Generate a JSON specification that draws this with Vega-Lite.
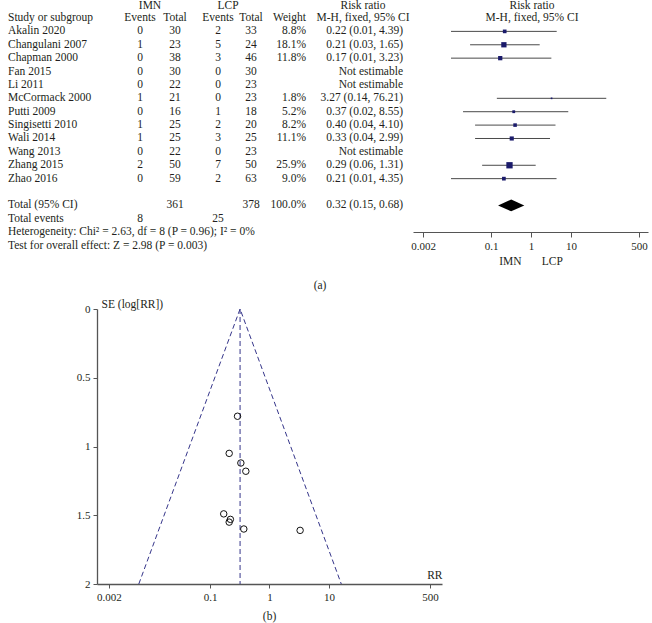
{
  "$schema": "https://vega.github.io/schema/vega-lite/v6.json",
  "width": 652,
  "height": 623,
  "padding": 0,
  "autosize": "none",
  "background": "white",
  "config": {
    "view": {"stroke": null},
    "text": {"font": "Liberation Serif", "fontSize": 11.5, "color": "#231f20"},
    "axis": {"labelFont": "Liberation Serif", "titleFont": "Liberation Serif", "labelFontSize": 11, "titleFontSize": 11.5, "titleFontWeight": "normal", "labelColor": "#231f20", "titleColor": "#231f20", "domainColor": "#555", "tickColor": "#555", "grid": false, "labelFlush": false}
  },
  "datasets": {
    "table": [
      {"row": -1, "study": "Study or subgroup", "imn_e": "Events", "imn_t": "Total", "lcp_e": "Events", "lcp_t": "Total", "weight": "Weight"},
      {"row": 0, "study": "Akalin 2020", "imn_e": "0", "imn_t": "30", "lcp_e": "2", "lcp_t": "33", "weight": "8.8%", "ci": "0.22 (0.01, 4.39)"},
      {"row": 1, "study": "Changulani 2007", "imn_e": "1", "imn_t": "23", "lcp_e": "5", "lcp_t": "24", "weight": "18.1%", "ci": "0.21 (0.03, 1.65)"},
      {"row": 2, "study": "Chapman 2000", "imn_e": "0", "imn_t": "38", "lcp_e": "3", "lcp_t": "46", "weight": "11.8%", "ci": "0.17 (0.01, 3.23)"},
      {"row": 3, "study": "Fan 2015", "imn_e": "0", "imn_t": "30", "lcp_e": "0", "lcp_t": "30", "ci": "Not estimable"},
      {"row": 4, "study": "Li 2011", "imn_e": "0", "imn_t": "22", "lcp_e": "0", "lcp_t": "23", "ci": "Not estimable"},
      {"row": 5, "study": "McCormack 2000", "imn_e": "1", "imn_t": "21", "lcp_e": "0", "lcp_t": "23", "weight": "1.8%", "ci": "3.27 (0.14, 76.21)"},
      {"row": 6, "study": "Putti 2009", "imn_e": "0", "imn_t": "16", "lcp_e": "1", "lcp_t": "18", "weight": "5.2%", "ci": "0.37 (0.02, 8.55)"},
      {"row": 7, "study": "Singisetti 2010", "imn_e": "1", "imn_t": "25", "lcp_e": "2", "lcp_t": "20", "weight": "8.2%", "ci": "0.40 (0.04, 4.10)"},
      {"row": 8, "study": "Wali 2014", "imn_e": "1", "imn_t": "25", "lcp_e": "3", "lcp_t": "25", "weight": "11.1%", "ci": "0.33 (0.04, 2.99)"},
      {"row": 9, "study": "Wang 2013", "imn_e": "0", "imn_t": "22", "lcp_e": "0", "lcp_t": "23", "ci": "Not estimable"},
      {"row": 10, "study": "Zhang 2015", "imn_e": "2", "imn_t": "50", "lcp_e": "7", "lcp_t": "50", "weight": "25.9%", "ci": "0.29 (0.06, 1.31)"},
      {"row": 11, "study": "Zhao 2016", "imn_e": "0", "imn_t": "59", "lcp_e": "2", "lcp_t": "63", "weight": "9.0%", "ci": "0.21 (0.01, 4.35)"},
      {"row": 13, "study": "Total (95% CI)", "imn_t": "361", "lcp_t": "378", "weight": "100.0%", "ci": "0.32 (0.15, 0.68)"},
      {"row": 14, "study": "Total events", "imn_e": "8", "lcp_e": "25"},
      {"row": 15, "study": "Heterogeneity: Chi² = 2.63, df = 8 (P = 0.96); I² = 0%"},
      {"row": 16, "study": "Test for overall effect: Z = 2.98 (P = 0.003)"}
    ],
    "headers": [
      {"label": "IMN", "row": -2, "slot": 7},
      {"label": "LCP", "row": -2, "slot": 8},
      {"label": "Risk ratio", "row": -2, "slot": 9},
      {"label": "Risk ratio", "row": -2, "slot": 10}
    ],
    "subheaders": [
      {"label": "M-H, fixed, 95% CI", "row": -1, "slot": 9},
      {"label": "M-H, fixed, 95% CI", "row": -1, "slot": 10},
      {"label": "(a)", "row": 19, "slot": 11}
    ],
    "forest": [
      {"row": 0, "rr": 0.22, "lo": 0.01, "hi": 4.39, "w": 8.8},
      {"row": 1, "rr": 0.21, "lo": 0.03, "hi": 1.65, "w": 18.1},
      {"row": 2, "rr": 0.17, "lo": 0.01, "hi": 3.23, "w": 11.8},
      {"row": 5, "rr": 3.27, "lo": 0.14, "hi": 76.21, "w": 1.8},
      {"row": 6, "rr": 0.37, "lo": 0.02, "hi": 8.55, "w": 5.2},
      {"row": 7, "rr": 0.40, "lo": 0.04, "hi": 4.10, "w": 8.2},
      {"row": 8, "rr": 0.33, "lo": 0.04, "hi": 2.99, "w": 11.1},
      {"row": 10, "rr": 0.29, "lo": 0.06, "hi": 1.31, "w": 25.9},
      {"row": 11, "rr": 0.21, "lo": 0.01, "hi": 4.35, "w": 9.0}
    ],
    "diamond": [
      {"rr": 0.15, "y1": 13, "y2": 13},
      {"rr": 0.32, "y1": 12.56, "y2": 13.44},
      {"rr": 0.68, "y1": 13, "y2": 13}
    ],
    "funnelPts": [
      {"study": "Akalin 2020", "rr": 0.22, "se": 1.53},
      {"study": "Changulani 2007", "rr": 0.21, "se": 1.05},
      {"study": "Chapman 2000", "rr": 0.17, "se": 1.49},
      {"study": "McCormack 2000", "rr": 3.27, "se": 1.61},
      {"study": "Putti 2009", "rr": 0.37, "se": 1.6},
      {"study": "Singisetti 2010", "rr": 0.40, "se": 1.18},
      {"study": "Wali 2014", "rr": 0.33, "se": 1.12},
      {"study": "Zhang 2015", "rr": 0.29, "se": 0.78},
      {"study": "Zhao 2016", "rr": 0.21, "se": 1.55}
    ],
    "funnelLines": [
      {"rr": 0.00635, "se": 2},
      {"rr": 0.32, "se": 0},
      {"rr": 16.1, "se": 2}
    ],
    "pooled": [
      {"rr": 0.32, "se": 0, "se2": 2}
    ]
  },
  "resolve": {"scale": {"x": "independent", "y": "independent"}},
  "layer": [
    {
      "encoding": {
        "y": {"field": "row", "type": "quantitative", "scale": {"domain": [-2, 16], "range": [4.6, 245.6], "nice": false, "zero": false}, "axis": null}
      },
      "layer": [
        {
          "data": {"name": "table"},
          "transform": [{"filter": "isValid(datum.study)"}],
          "mark": {"type": "text", "align": "left"},
          "encoding": {
            "x": {"datum": 0, "type": "quantitative", "scale": {"domain": [0,1,2,3,4,5,6,7,8,9,10,11,12], "range": [8,140,175,218,251,306,403,150,228,363,532,320,648], "nice": false, "zero": false}, "axis": null},
            "text": {"field": "study"}
          }
        },
        {
          "data": {"name": "table"},
          "transform": [{"filter": "isValid(datum.imn_e)"}],
          "mark": {"type": "text", "align": "center"},
          "encoding": {
            "x": {"datum": 1, "type": "quantitative", "scale": {"domain": [0,1,2,3,4,5,6,7,8,9,10,11,12], "range": [8,140,175,218,251,306,403,150,228,363,532,320,648], "nice": false, "zero": false}, "axis": null},
            "text": {"field": "imn_e"}
          }
        },
        {
          "data": {"name": "table"},
          "transform": [{"filter": "isValid(datum.imn_t)"}],
          "mark": {"type": "text", "align": "center"},
          "encoding": {
            "x": {"datum": 2, "type": "quantitative", "scale": {"domain": [0,1,2,3,4,5,6,7,8,9,10,11,12], "range": [8,140,175,218,251,306,403,150,228,363,532,320,648], "nice": false, "zero": false}, "axis": null},
            "text": {"field": "imn_t"}
          }
        },
        {
          "data": {"name": "table"},
          "transform": [{"filter": "isValid(datum.lcp_e)"}],
          "mark": {"type": "text", "align": "center"},
          "encoding": {
            "x": {"datum": 3, "type": "quantitative", "scale": {"domain": [0,1,2,3,4,5,6,7,8,9,10,11,12], "range": [8,140,175,218,251,306,403,150,228,363,532,320,648], "nice": false, "zero": false}, "axis": null},
            "text": {"field": "lcp_e"}
          }
        },
        {
          "data": {"name": "table"},
          "transform": [{"filter": "isValid(datum.lcp_t)"}],
          "mark": {"type": "text", "align": "center"},
          "encoding": {
            "x": {"datum": 4, "type": "quantitative", "scale": {"domain": [0,1,2,3,4,5,6,7,8,9,10,11,12], "range": [8,140,175,218,251,306,403,150,228,363,532,320,648], "nice": false, "zero": false}, "axis": null},
            "text": {"field": "lcp_t"}
          }
        },
        {
          "data": {"name": "table"},
          "transform": [{"filter": "isValid(datum.weight)"}],
          "mark": {"type": "text", "align": "right"},
          "encoding": {
            "x": {"datum": 5, "type": "quantitative", "scale": {"domain": [0,1,2,3,4,5,6,7,8,9,10,11,12], "range": [8,140,175,218,251,306,403,150,228,363,532,320,648], "nice": false, "zero": false}, "axis": null},
            "text": {"field": "weight"}
          }
        },
        {
          "data": {"name": "table"},
          "transform": [{"filter": "isValid(datum.ci)"}],
          "mark": {"type": "text", "align": "right"},
          "encoding": {
            "x": {"datum": 6, "type": "quantitative", "scale": {"domain": [0,1,2,3,4,5,6,7,8,9,10,11,12], "range": [8,140,175,218,251,306,403,150,228,363,532,320,648], "nice": false, "zero": false}, "axis": null},
            "text": {"field": "ci"}
          }
        },
        {
          "data": {"name": "headers"},
          "mark": {"type": "text", "align": "center", "baseline": "top", "dy": -5},
          "encoding": {
            "x": {"field": "slot", "type": "quantitative", "scale": {"domain": [0,1,2,3,4,5,6,7,8,9,10,11,12], "range": [8,140,175,218,251,306,403,150,228,363,532,320,648], "nice": false, "zero": false}, "axis": null},
            "text": {"field": "label"}
          }
        },
        {
          "data": {"name": "subheaders"},
          "mark": {"type": "text", "align": "center"},
          "encoding": {
            "x": {"field": "slot", "type": "quantitative", "scale": {"domain": [0,1,2,3,4,5,6,7,8,9,10,11,12], "range": [8,140,175,218,251,306,403,150,228,363,532,320,648], "nice": false, "zero": false}, "axis": null},
            "text": {"field": "label"}
          }
        },
        {
          "data": {"values": [{}]},
          "mark": {"type": "rule", "color": "#444", "strokeWidth": 1},
          "encoding": {
            "x": {"datum": 0, "type": "quantitative", "scale": {"domain": [0,1,2,3,4,5,6,7,8,9,10,11,12], "range": [8,140,175,218,251,306,403,150,228,363,532,320,648], "nice": false, "zero": false}, "axis": null},
            "x2": {"datum": 12},
            "y": {"datum": -0.62, "type": "quantitative"}
          }
        }
      ]
    },
    {
      "encoding": {
        "y": {"field": "row", "type": "quantitative", "scale": {"domain": [-2, 16], "range": [4.6, 245.6], "nice": false, "zero": false}, "axis": null}
      },
      "layer": [
        {
          "data": {"values": [{}]},
          "mark": {"type": "rule", "color": "#444", "strokeWidth": 1.2},
          "encoding": {
            "x": {"datum": 1, "type": "quantitative", "scale": {"type": "log", "domain": [0.001122, 841.4], "range": [413, 648], "nice": false},
              "axis": {"orient": "bottom", "offset": -391, "values": [0.002, 0.1, 1, 10, 500], "format": "~g", "tickSize": 5, "labelPadding": 3, "title": "IMN\u00a0\u00a0\u00a0\u00a0\u00a0\u00a0\u00a0LCP", "titlePadding": 4}},
            "y": {"datum": -0.62, "type": "quantitative"},
            "y2": {"datum": 14.98}
          }
        },
        {
          "data": {"name": "forest"},
          "mark": {"type": "rule", "color": "#4a4a4a", "strokeWidth": 1},
          "encoding": {
            "x": {"field": "lo", "type": "quantitative"},
            "x2": {"field": "hi"}
          }
        },
        {
          "data": {"name": "forest"},
          "mark": {"type": "square", "color": "#1b1b6b", "opacity": 1},
          "encoding": {
            "x": {"field": "rr", "type": "quantitative"},
            "size": {"field": "w", "type": "quantitative", "scale": {"domain": [0, 26], "range": [0, 40]}, "legend": null}
          }
        },
        {
          "data": {"name": "diamond"},
          "mark": {"type": "area", "color": "#000", "orient": "vertical", "opacity": 1},
          "encoding": {
            "x": {"field": "rr", "type": "quantitative"},
            "y": {"field": "y1", "type": "quantitative"},
            "y2": {"field": "y2"}
          }
        }
      ]
    },
    {
      "layer": [
        {
          "data": {"name": "funnelLines"},
          "mark": {"type": "line", "color": "#35358a", "strokeWidth": 1, "strokeDash": [5, 3]},
          "encoding": {
            "x": {"field": "rr", "type": "quantitative", "scale": {"type": "log", "domain": [0.001259, 794.3], "range": [97, 442], "nice": false},
              "axis": {"orient": "bottom", "offset": -39, "values": [0.002, 0.1, 1, 10, 500], "format": "~g", "tickSize": 4, "labelPadding": 3, "title": "RR", "titleX": 442, "titleY": -9, "titleAlign": "right", "titleBaseline": "middle", "domainWidth": 1.3}},
            "y": {"field": "se", "type": "quantitative", "scale": {"domain": [0, 2], "range": [309, 584], "nice": false, "zero": false},
              "axis": {"orient": "left", "offset": -97, "values": [0, 0.5, 1, 1.5, 2], "format": "~g", "tickSize": 4, "labelPadding": 3, "title": "SE (log[RR])", "titleAngle": 0, "titleX": 4, "titleY": 304, "titleAlign": "left", "titleBaseline": "middle", "domainWidth": 1.3}}
          }
        },
        {
          "data": {"name": "pooled"},
          "mark": {"type": "rule", "color": "#35358a", "strokeWidth": 1, "strokeDash": [5, 3]},
          "encoding": {
            "x": {"field": "rr", "type": "quantitative"},
            "y": {"field": "se", "type": "quantitative"},
            "y2": {"field": "se2"}
          }
        },
        {
          "data": {"name": "funnelPts"},
          "mark": {"type": "point", "shape": "circle", "filled": false, "color": "#111", "strokeWidth": 1, "size": 42, "opacity": 1},
          "encoding": {
            "x": {"field": "rr", "type": "quantitative"},
            "y": {"field": "se", "type": "quantitative"}
          }
        },
        {
          "data": {"values": [{"label": "(b)"}]},
          "mark": {"type": "text", "align": "center"},
          "encoding": {
            "x": {"datum": 1, "type": "quantitative"},
            "y": {"datum": 2.24, "type": "quantitative"},
            "text": {"field": "label"}
          }
        }
      ]
    }
  ]
}
